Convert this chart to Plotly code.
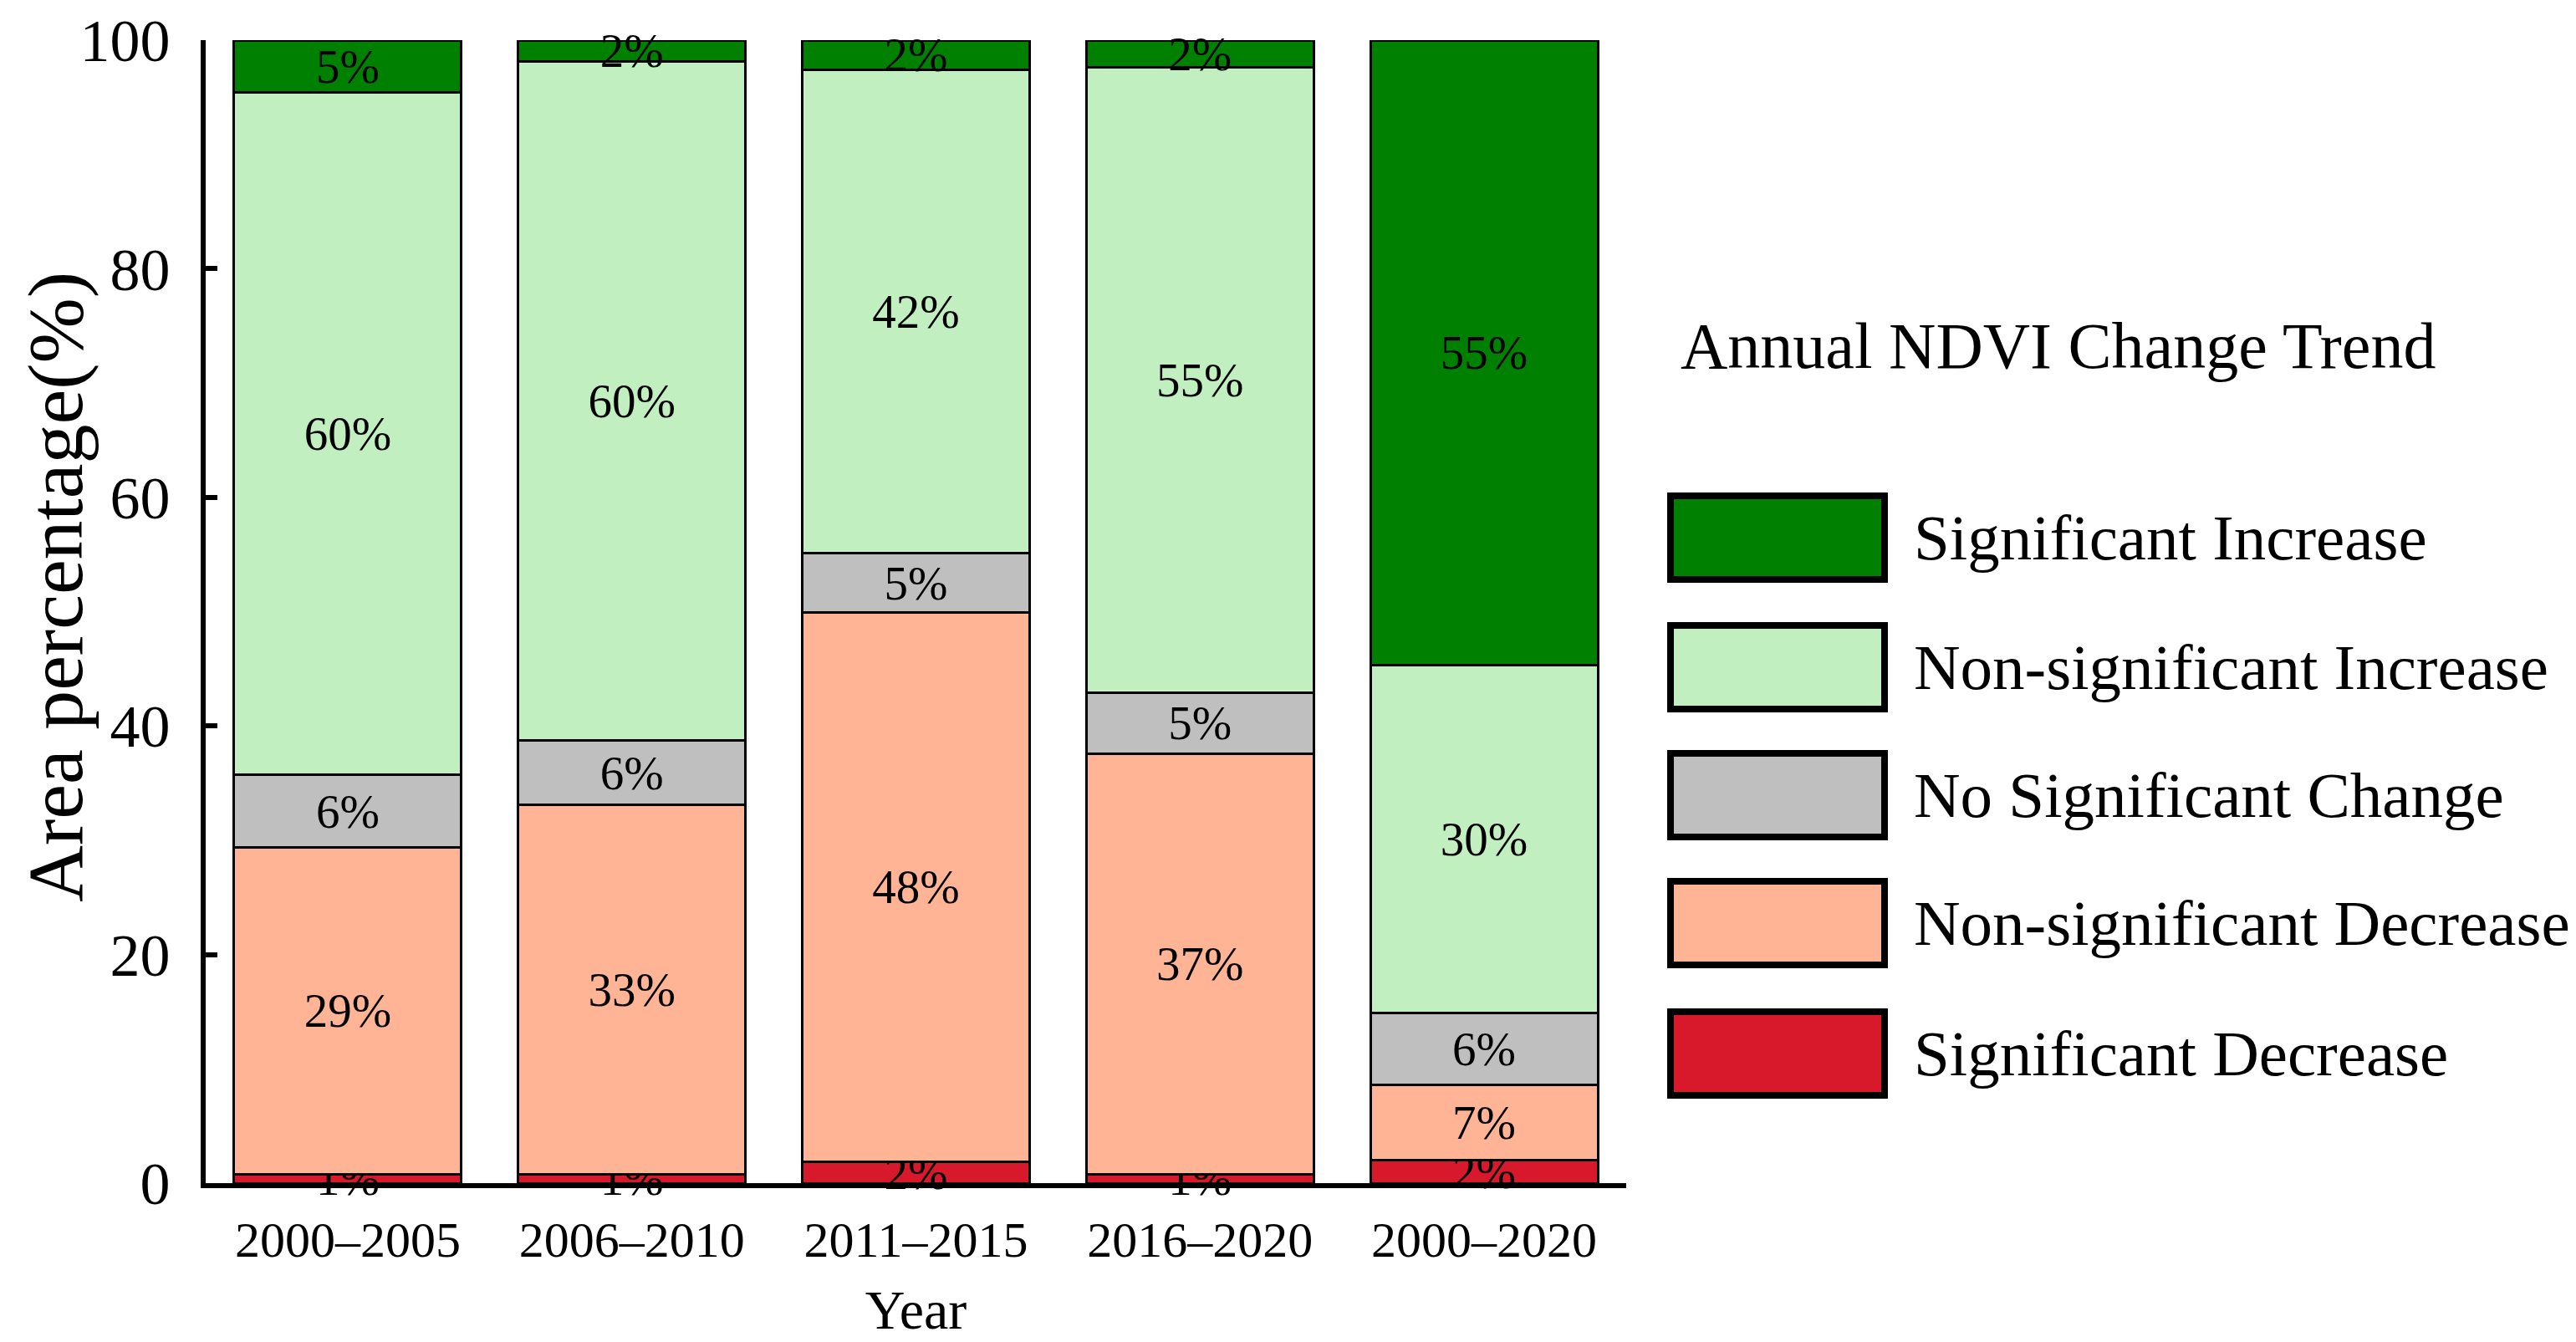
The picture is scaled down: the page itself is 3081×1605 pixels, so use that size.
import plotly.graph_objects as go

periods = ["2000–2005", "2006–2010", "2011–2015", "2016–2020", "2000–2020"]
categories = ["Significant Decrease", "Non-significant Decrease", "No Significant Change",
              "Non-significant Increase", "Significant Increase"]
sig_dec = [0.8, 0.8, 1.9, 0.8, 2.0]
nonsig_dec = [28.6, 32.3, 48.0, 36.8, 6.6]
no_change = [6.3, 5.6, 5.2, 5.3, 6.3]
nonsig_inc = [59.7, 59.4, 42.3, 54.7, 30.4]
sig_inc = [4.6, 1.9, 2.6, 2.4, 54.7]
lbl_sig_dec = ["1%", "1%", "2%", "1%", "2%"]
lbl_nonsig_dec = ["29%", "33%", "48%", "37%", "7%"]
lbl_no_change = ["6%", "6%", "5%", "5%", "6%"]
lbl_nonsig_inc = ["60%", "60%", "42%", "55%", "30%"]
lbl_sig_inc = ["5%", "2%", "2%", "2%", "55%"]
colors = ["#d7192b", "#ffb595", "#bfbfbf", "#c1efbf", "#008000"]
legend_title = "Annual NDVI Change Trend"
y_title = "Area percentage(%)"
x_title = "Year"

series = [sig_dec, nonsig_dec, no_change, nonsig_inc, sig_inc]
labels = [lbl_sig_dec, lbl_nonsig_dec, lbl_no_change, lbl_nonsig_inc, lbl_sig_inc]

FONT = "Liberation Serif"
fig = go.Figure()
for name, vals, txt, col in zip(categories, series, labels, colors):
    fig.add_trace(go.Bar(
        x=periods, y=vals, name=name, text=txt,
        textposition="inside", insidetextanchor="middle", textangle=0,
        textfont=dict(family=FONT, size=57, color="black"),
        marker=dict(color=col, line=dict(color="black", width=3)),
        cliponaxis=False, showlegend=False,
    ))

W, H = 3081, 1605
OFF = 8  # page body margin offset
L, R, T, B = 238, 1144, 40, 198
pw = W - L - R
ph = H - T - B


def px(x):
    return (x - OFF - L) / pw


def py(y):
    return (H - B - (y - OFF)) / ph


fig.update_layout(
    width=W, height=H, barmode="stack", bargap=0.2,
    margin=dict(l=L, r=R, t=T, b=B, autoexpand=False),
    plot_bgcolor="white", paper_bgcolor="white",
    font=dict(family=FONT, color="black"),
    uniformtext=dict(minsize=57, mode="show"),
)
fig.update_xaxes(
    range=[-0.5, 4.5], showline=True, linecolor="black", linewidth=6,
    ticks="", tickfont=dict(family=FONT, size=60), ticklabelstandoff=10,
    title=dict(text=x_title, font=dict(family=FONT, size=66), standoff=30),
    showgrid=False, zeroline=False, automargin=False,
)
fig.update_yaxes(
    range=[0, 100], tickvals=[0, 20, 40, 60, 80, 100],
    showline=True, linecolor="black", linewidth=6,
    ticks="inside", ticklen=14, tickwidth=6, tickcolor="black",
    tickfont=dict(family=FONT, size=72), ticklabelstandoff=22,
    ticklabeloverflow="allow",
    showgrid=False, zeroline=False, automargin=False,
)
fig.add_annotation(xref="paper", yref="paper", x=px(66), y=py(702), text=y_title,
                   textangle=-90, showarrow=False, xanchor="center", yanchor="middle",
                   font=dict(family=FONT, size=94, color="black"))

# custom legend with large swatches (pixel positions converted to paper coords)
sw_x0, sw_x1 = 1998, 2254
text_x = 2287
item_cy = [643, 798, 951, 1104, 1260]
half_h = 50
legend_order = list(zip(categories, colors))[::-1]
for (name, col), cy in zip(legend_order, item_cy):
    fig.add_shape(type="rect", xref="paper", yref="paper",
                  x0=px(sw_x0), x1=px(sw_x1), y0=py(cy + half_h), y1=py(cy - half_h),
                  fillcolor=col, line=dict(color="black", width=8))
    fig.add_annotation(xref="paper", yref="paper", x=px(text_x), y=py(cy), text=name,
                       showarrow=False, xanchor="left", yanchor="middle",
                       font=dict(family=FONT, size=77, color="black"))
fig.add_annotation(xref="paper", yref="paper", x=px(2008), y=py(413), text=legend_title,
                   showarrow=False, xanchor="left", yanchor="middle",
                   font=dict(family=FONT, size=78, color="black"))

fig.write_html("out.html")
